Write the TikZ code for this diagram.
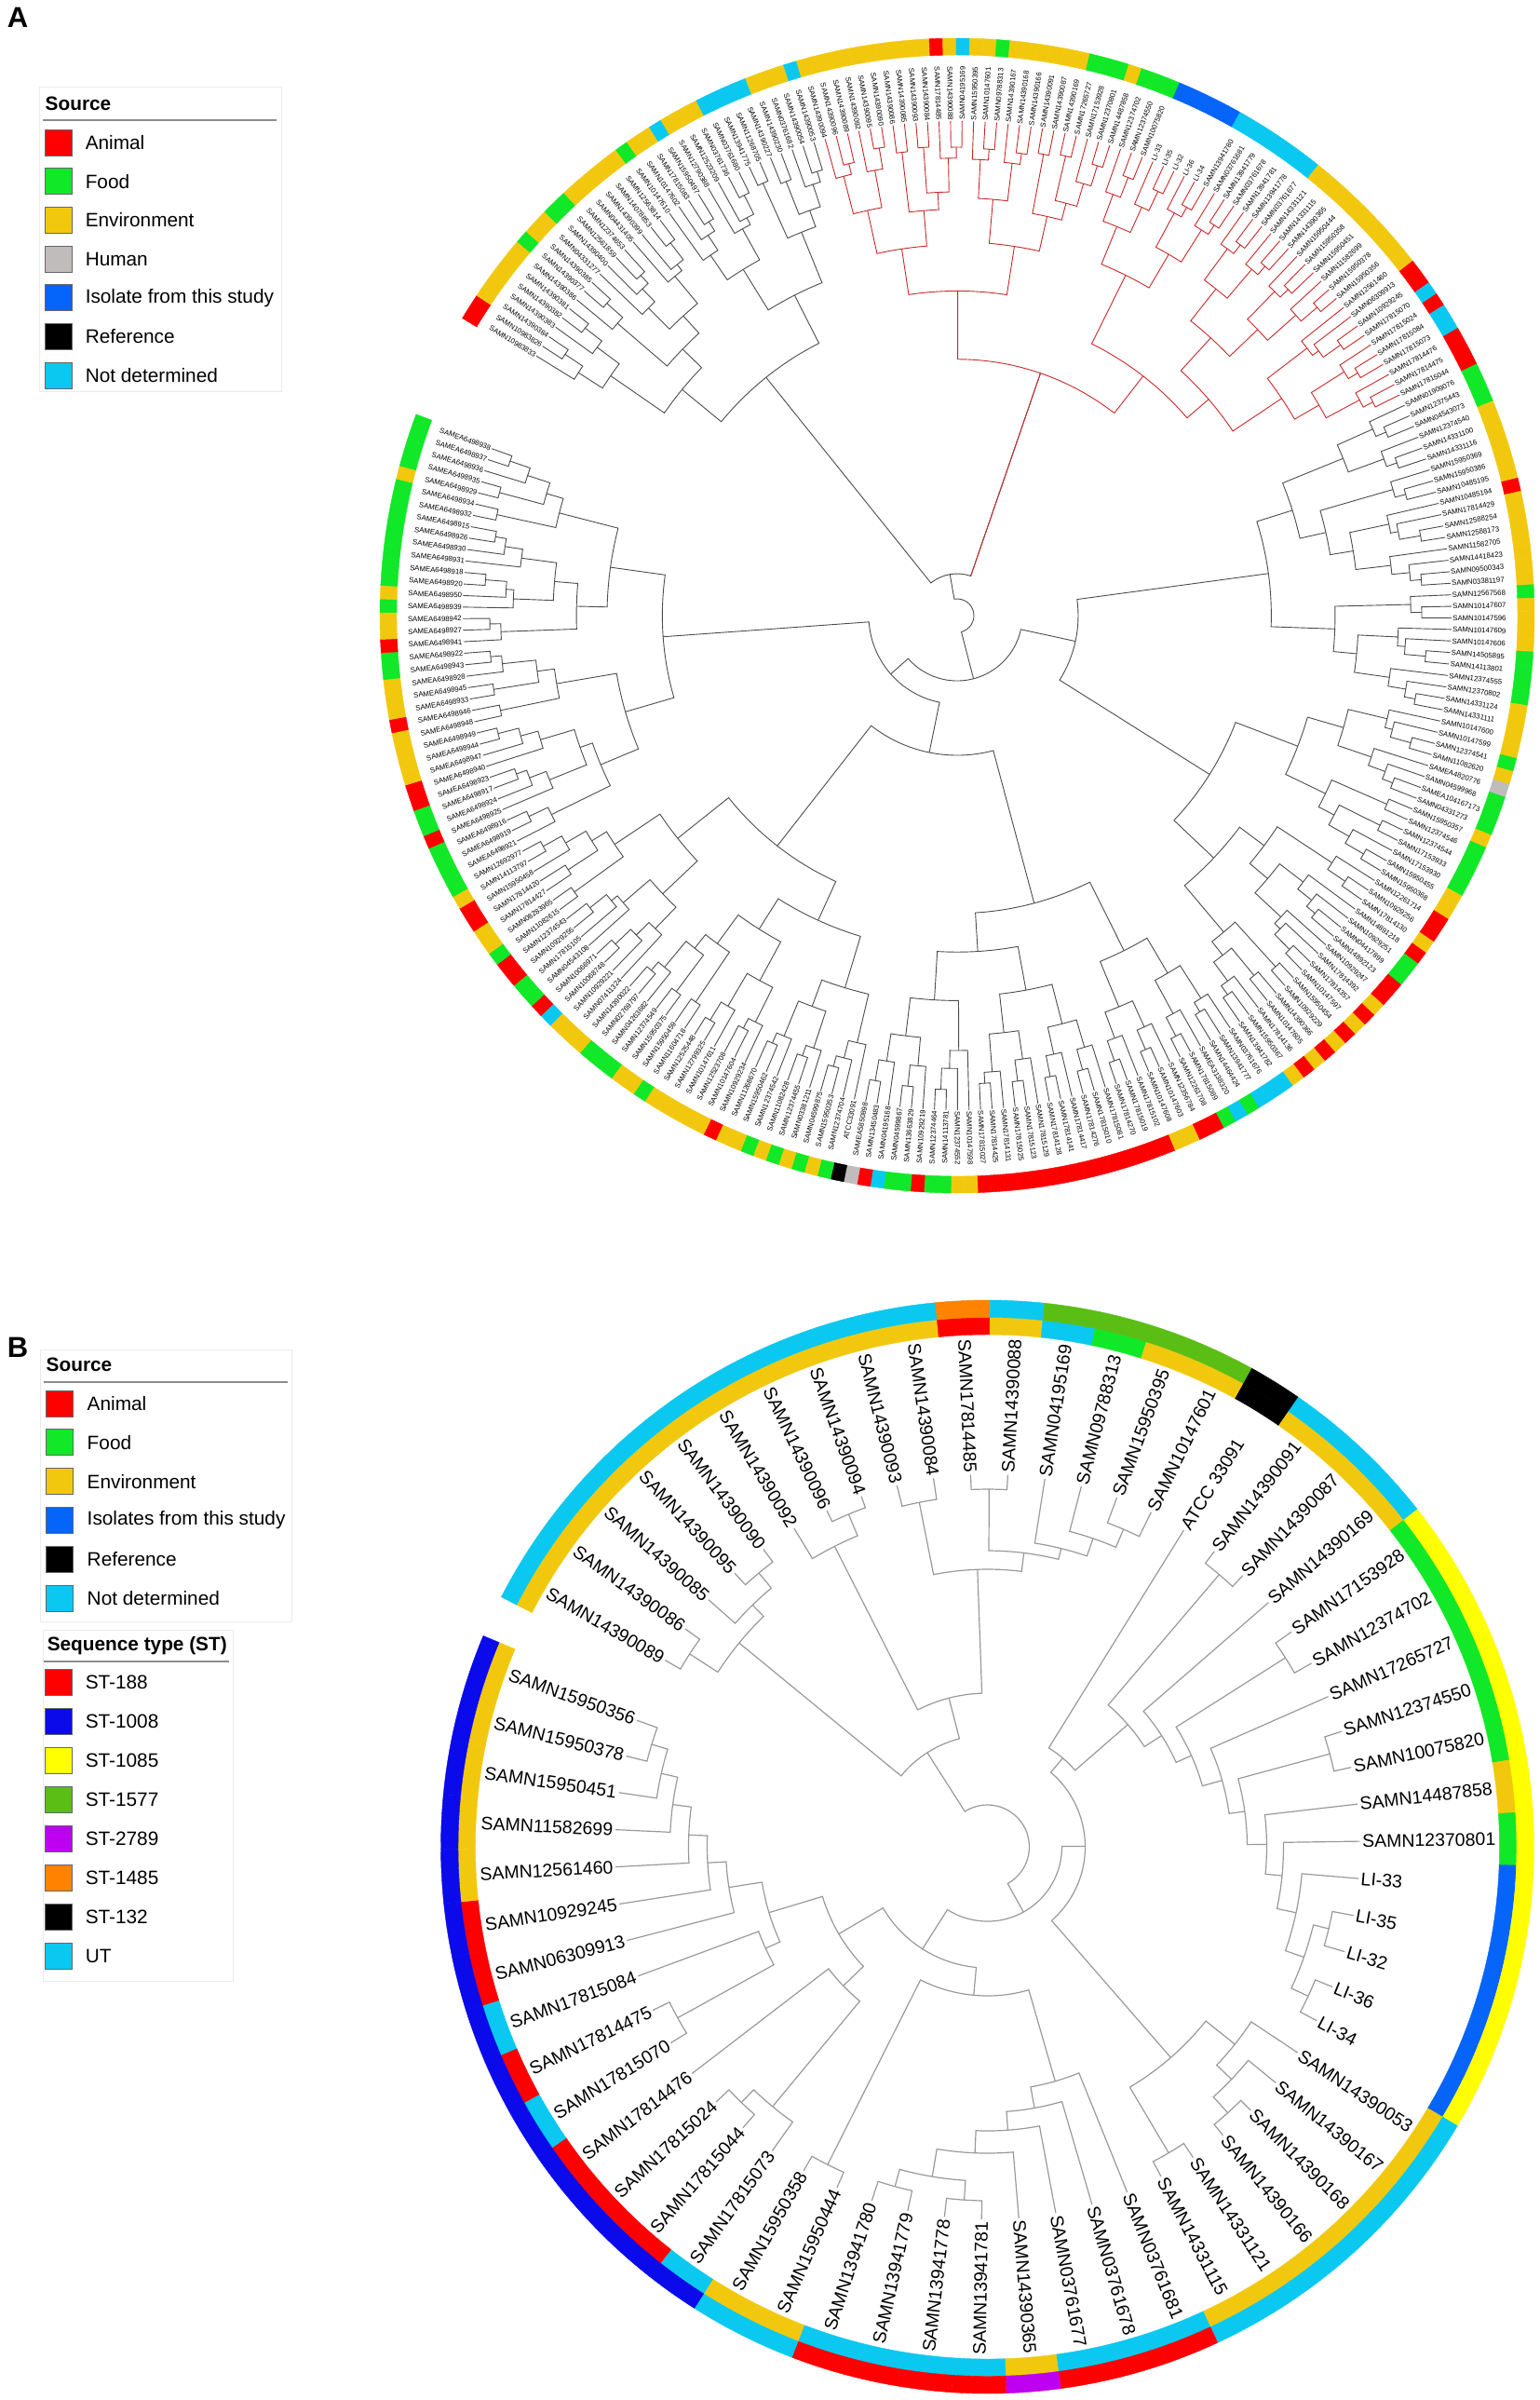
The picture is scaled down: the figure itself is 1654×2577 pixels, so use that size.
\documentclass[tikz,border=0pt]{standalone}
\usepackage{fontspec}
\setmainfont{Liberation Sans}
\usepackage{tikz}

% source colours
\definecolor{animal}{RGB}{255,0,0}
\definecolor{food}{RGB}{16,232,40}
\definecolor{envir}{RGB}{242,200,15}
\definecolor{human}{RGB}{192,188,188}
\definecolor{isolate}{RGB}{5,100,250}
\definecolor{refer}{RGB}{0,0,0}
\definecolor{undet}{RGB}{10,200,240}
% sequence type colours
\definecolor{st188}{RGB}{255,0,0}
\definecolor{st1008}{RGB}{10,10,235}
\definecolor{st1085}{RGB}{255,255,0}
\definecolor{st1577}{RGB}{90,190,20}
\definecolor{st2789}{RGB}{190,0,240}
\definecolor{st1485}{RGB}{255,130,0}
\definecolor{st132}{RGB}{0,0,0}
\definecolor{ut}{RGB}{10,200,240}
\definecolor{treered}{RGB}{200,40,40}

\tikzset{every picture/.style={line width=0.75pt}}
\tikzset{
  treeA/.style={draw=black!70, line width=0.45pt},
  treeR/.style={draw=treered, line width=0.45pt},
  treeB/.style={draw=black!40, line width=0.6pt},
  brnow/.style={treeA},
  labA/.style={font=\fontsize{3.9}{4.5}\selectfont, inner sep=0.3pt},
  labB/.style={font=\fontsize{9.75}{11}\selectfont, inner sep=1pt},
  legtext/.style={font=\fontsize{10.4}{12}\selectfont, anchor=west, inner sep=0pt},
  legtitle/.style={font=\fontsize{10.4}{12}\selectfont\bfseries, anchor=west, inner sep=0pt},
  swatch/.style={draw=black!60, line width=0.4pt, minimum width=14.5pt, minimum height=14pt, inner sep=0pt},
  legbox/.style={draw=black!8, line width=0.5pt},
  panel/.style={font=\fontsize{15.5}{18}\selectfont\bfseries, inner sep=0pt}
}

% panel A: one leaf (index, label, source colour)
\newcommand{\leafA}[3]{%
  \pgfmathsetmacro\tA{149-(#1-0.5)*1.3387}%
  \expandafter\xdef\csname angA#1-#1\endcsname{\tA}%
  \expandafter\xdef\csname radA#1-#1\endcsname{530}%
  \pgfmathsetmacro\tB{\tA+0.67}%
  \pgfmathsetmacro\tC{\tA-0.67}%
  \filldraw[#3, line width=0.2pt] (\tB:602) arc[start angle=\tB,end angle=\tC,radius=602] -- (\tC:620) arc[start angle=\tC,end angle=\tB,radius=620] -- cycle;
  \coordinate (A#1-#1) at (\tA:531);
  \pgfmathsetmacro\tD{cos(\tA)}%
  \ifdim\tD pt<0pt
    \node[labA,anchor=east,rotate=\tA+180] (A#1-lab) at (A#1-#1) {#2};
  \else
    \node[labA,anchor=west,rotate=\tA] (A#1-lab) at (A#1-#1) {#2};
  \fi}

% panel A: join two named nodes at a radius
\newcommand{\linkA}[4]{%
  \expandafter\let\expandafter\tA\csname ang#1\endcsname
  \expandafter\let\expandafter\tB\csname ang#2\endcsname
  \pgfmathsetmacro\tC{(\tA+\tB)/2}%
  \expandafter\xdef\csname ang#3\endcsname{\tC}%
  \expandafter\xdef\csname rad#3\endcsname{#4}%
  \coordinate (#3) at (\tC:#4);
  \draw[brnow] (#1) -- (\tA:#4) arc[start angle=\tA,end angle=\tB,radius=#4] -- (#2);}

\newcommand{\joinA}[5]{%
  \expandafter\let\expandafter\tD\csname rad#1\endcsname
  \expandafter\let\expandafter\tE\csname rad#2\endcsname
  \pgfmathsetmacro\tL{ln(#4)/ln(2)}%
  \pgfmathsetmacro\tR{min(528-20*\tL-4*\tL*\tL+mod(#5*7+#4*13,11)-5,\tD-7,\tE-7)}%
  \linkA{#1}{#2}{#3}{\tR}}

% panel A: build the clade of leaves #1..#2
\newcommand{\buildA}[2]{%
  \ifnum#1<#2\relax
    \begingroup
      \pgfmathtruncatemacro\tN{#2-#1+1}%
      \pgfmathtruncatemacro\tM{#1-1+max(1,min(\tN-1,floor(\tN*(0.35+0.03*mod(#1*13+#2*7,10)))))}%
      \pgfmathtruncatemacro\tP{\tM+1}%
      \edef\tNext{\noexpand\buildA{#1}{\tM}\noexpand\buildA{\tP}{#2}%
        \noexpand\joinA{A#1-\tM}{A\tP-#2}{A#1-#2}{\tN}{#1}}%
      \tNext
    \endgroup
  \fi}

% panel B: one leaf (index, name, label, source, ST)
\newcommand{\leafB}[5]{%
  \pgfmathsetmacro\tA{152.8-(#1-0.5)*5.734}%
  \expandafter\xdef\csname ang#2\endcsname{\tA}%
  \pgfmathsetmacro\tB{\tA+2.867}%
  \pgfmathsetmacro\tC{\tA-2.867}%
  \filldraw[#4, line width=0.2pt] (\tB:550) arc[start angle=\tB,end angle=\tC,radius=550] -- (\tC:568.5) arc[start angle=\tC,end angle=\tB,radius=568.5] -- cycle;
  \filldraw[#5, line width=0.2pt] (\tB:568.5) arc[start angle=\tB,end angle=\tC,radius=568.5] -- (\tC:587) arc[start angle=\tC,end angle=\tB,radius=587] -- cycle;
  \coordinate (#2) at (\tA:400);
  \pgfmathsetmacro\tD{cos(\tA)}%
  \ifdim\tD pt<0pt
    \node[labB,anchor=east,rotate=\tA+180] (#2-lab) at (#2) {#3};
  \else
    \node[labB,anchor=west,rotate=\tA] (#2-lab) at (#2) {#3};
  \fi}

\newcommand{\cladeB}[4]{%
  \expandafter\let\expandafter\tA\csname ang#2\endcsname
  \expandafter\let\expandafter\tB\csname ang#3\endcsname
  \pgfmathsetmacro\tC{(\tA+\tB)/2}%
  \expandafter\xdef\csname ang#1\endcsname{\tC}%
  \coordinate (#1) at (\tC:#4);
  \draw[treeB] (#2) -- (\tA:#4) arc[start angle=\tA,end angle=\tB,radius=#4] -- (#3);}

\begin{document}
\begin{tikzpicture}[x=0.5pt,y=0.5pt,yscale=-1,xscale=1]
\useasboundingbox (0,0) rectangle (1654,2577);

% Panel letters
\node[panel] (pA) at (19,19) {A};
\node[panel] (pB) at (19,1447) {B};

% Legend A
\draw[legbox] (42,93) rectangle (302,420);
\node[legtitle] (legA) at (48,111) {Source};
\draw[black!45, line width=0.9pt] (46,129) -- (297,129);
\foreach \col/\txt [count=\k] in {animal/Animal,food/Food,envir/Environment,human/Human,isolate/Isolate from this study,refer/Reference,undet/Not determined}
{
  \node[swatch, fill=\col] (swA\k) at (62.5,{153+41.67*(\k-1)}) {};
  \node[legtext] (txA\k) at (91,{153+41.67*(\k-1)}) {\txt};
}

% Legend B, source
\draw[legbox] (43,1449) rectangle (313,1741);
\node[legtitle] (legB) at (49,1465) {Source};
\draw[black!45, line width=0.9pt] (47,1484) -- (309,1484);
\foreach \col/\txt [count=\k] in {animal/Animal,food/Food,envir/Environment,isolate/Isolates from this study,refer/Reference,undet/Not determined}
{
  \node[swatch, fill=\col] (swB\k) at (64,{1507+41.8*(\k-1)}) {};
  \node[legtext] (txB\k) at (93,{1507+41.8*(\k-1)}) {\txt};
}

% Legend B, sequence type
\draw[legbox] (46,1750) rectangle (250,2127);
\node[legtitle] (legST) at (50,1767) {Sequence type (ST)};
\draw[black!45, line width=0.9pt] (47,1784) -- (246,1784);
\foreach \col/\txt [count=\k] in {st188/ST-188,st1008/ST-1008,st1085/ST-1085,st1577/ST-1577,st2789/ST-2789,st1485/ST-1485,st132/ST-132,ut/UT}
{
  \node[swatch, fill=\col] (swS\k) at (62.5,{1806+42*(\k-1)}) {};
  \node[legtext] (txS\k) at (91,{1806+42*(\k-1)}) {\txt};
}

%% Panel A tree
\begin{scope}[shift={(1028,661)},yscale=-1]
\foreach \lab/\col [count=\i] in {
SAMN10983833/animal,SAMN10983826/animal,SAMN14390384/envir,SAMN14390383/envir,
SAMN14390382/envir,SAMN14390381/envir,SAMN14390386/envir,SAMN14390377/food,
SAMN14390385/envir,SAMN04331277/envir,SAMN14390400/food,SAMN12561859/food,
SAMN12374653/envir,SAMN04431405/envir,SAMN14390399/envir,SAMN14078853/envir,
SAMN12563814/envir,SAMN10147610/food,SAMN10147602/envir,SAMN17815083/envir,
SAMN15950497/undet,SAMN12790388/envir,SAMN12523209/envir,SAMN03761736/envir,
SAMN03761680/undet,SAMN13941775/undet,SAMN11268705/undet,SAMN14390227/undet,
SAMN14390230/envir,SAMN03761682/envir,SAMN14390054/envir,SAMN14390053/undet,
SAMN14390094/envir,SAMN14390096/envir,SAMN14390089/envir,SAMN14390092/envir,
SAMN14390095/envir,SAMN14390090/envir,SAMN14390086/envir,SAMN14390085/envir,
SAMN14390093/envir,SAMN14390084/envir,SAMN17814485/animal,SAMN14390088/envir,
SAMN04195169/undet,SAMN15950395/envir,SAMN10147601/envir,SAMN09788313/food,
SAMN14390167/envir,SAMN14390168/envir,SAMN14390166/envir,SAMN14390091/envir,
SAMN14390087/envir,SAMN14390169/envir,SAMN17265727/food,SAMN17153928/food,
SAMN12370801/food,SAMN14487858/envir,SAMN12374702/food,SAMN12374550/food,
SAMN10075820/food,LI-33/isolate,LI-35/isolate,LI-32/isolate,
LI-36/isolate,LI-34/isolate,SAMN13941780/undet,SAMN03761681/undet,
SAMN13941779/undet,SAMN03761678/undet,SAMN13941781/undet,SAMN13941778/undet,
SAMN03761677/undet,SAMN14331121/envir,SAMN14331115/envir,SAMN14390365/envir,
SAMN15950444/envir,SAMN15950358/envir,SAMN15950451/envir,SAMN11582699/envir,
SAMN15950378/envir,SAMN15950356/envir,SAMN12561460/envir,SAMN06309913/animal,
SAMN10929245/animal,SAMN17815070/undet,SAMN17815024/animal,SAMN17815084/undet,
SAMN17815073/undet,SAMN17814476/animal,SAMN17814475/animal,SAMN17815044/animal,
SAMN01909076/food,SAMN12375443/food,SAMN04543073/food,SAMN12374540/envir,
SAMN14331100/envir,SAMN14331116/envir,SAMN15950369/envir,SAMN15950386/envir,
SAMN10485195/envir,SAMN10485194/animal,SAMN17814429/envir,SAMN12588254/envir,
SAMN12588173/envir,SAMN11582705/envir,SAMN14418423/envir,SAMN09500343/envir,
SAMN03381197/envir,SAMN12567568/food,SAMN10147607/envir,SAMN10147596/envir,
SAMN10147609/envir,SAMN10147606/envir,SAMN14505895/food,SAMN14113801/food,
SAMN12374555/food,SAMN12370802/food,SAMN14331124/envir,SAMN14331111/envir,
SAMN10147600/envir,SAMN10147599/envir,SAMN12374541/food,SAMN11082620/envir,
SAMEA4820776/human,SAMN04599968/food,SAMEA104167173/food,SAMN04331273/food,
SAMN15950357/envir,SAMN12374546/food,SAMN12374544/food,SAMN17153933/food,
SAMN17153930/food,SAMN15950455/envir,SAMN15950368/envir,SAMN12261714/animal,
SAMN10929256/animal,SAMN17814130/envir,SAMN14891218/animal,SAMN10929251/food,
SAMN04417899/food,SAMN14892123/animal,SAMN10929247/animal,SAMN17814392/envir,
SAMN17814357/animal,SAMN10147597/envir,SAMN15950454/animal,SAMN10929229/envir,
SAMN14390366/animal,SAMN10147605/envir,SAMN17814136/animal,SAMN15950367/envir,
SAMN13941782/undet,SAMN03761676/undet,SAMN13941777/undet,SAMN14464424/food,
SAMEA3138320/undet,SAMN17815089/food,SAMN12261708/animal,SAMN12356784/animal,
SAMN10147603/envir,SAMN10147608/envir,SAMN17815102/animal,SAMN17815019/animal,
SAMN17814270/animal,SAMN17815081/animal,SAMN17815010/animal,SAMN17814276/animal,
SAMN17814417/animal,SAMN17814141/animal,SAMN17814128/animal,SAMN17815129/animal,
SAMN17815123/animal,SAMN17815025/animal,SAMN17814131/animal,SAMN17814425/animal,
SAMN17815027/animal,SAMN10147598/envir,SAMN12374552/envir,SAMN14113781/food,
SAMN12374464/food,SAMN10929219/animal,SAMN13663829/food,SAMN04599867/food,
SAMN04195168/undet,SAMN13450483/animal,SAMEA5850898/human,ATCC33091/refer,
SAMN12374704/food,SAMN15950353/envir,SAMN04599875/food,SAMN03381211/envir,
SAMN12374455/food,SAMN11082428/envir,SAMN12374542/food,SAMN15950462/envir,
SAMN11268670/envir,SAMN10929234/animal,SAMN10147604/envir,SAMN12523708/envir,
SAMN10147611/envir,SAMN12799325/envir,SAMN12525448/envir,SAMN11604718/food,
SAMN15950459/envir,SAMN15950375/envir,SAMN12374549/food,SAMN04263682/food,
SAMN02769797/food,SAMN14390022/envir,SAMN07411324/envir,SAMN10929221/envir,
SAMN10068748/undet,SAMN10066971/animal,SAMN04543108/food,SAMN17815105/food,
SAMN10929255/animal,SAMN12374543/animal,SAMN11082615/food,SAMN08283965/envir,
SAMN17814427/envir,SAMN17814420/animal,SAMN15950458/animal,SAMN14113797/envir,
SAMN12692977/food,SAMEA6498921/food,SAMEA6498919/food,SAMEA6498916/food,
SAMEA6498925/animal,SAMEA6498924/food,SAMEA6498917/food,SAMEA6498923/animal,
SAMEA6498940/animal,SAMEA6498947/envir,SAMEA6498944/envir,SAMEA6498949/envir,
SAMEA6498948/envir,SAMEA6498946/animal,SAMEA6498933/envir,SAMEA6498945/envir,
SAMEA6498928/envir,SAMEA6498943/food,SAMEA6498922/food,SAMEA6498941/animal,
SAMEA6498927/envir,SAMEA6498942/envir,SAMEA6498939/food,SAMEA6498950/envir,
SAMEA6498920/food,SAMEA6498918/food,SAMEA6498931/food,SAMEA6498930/food,
SAMEA6498926/food,SAMEA6498915/food,SAMEA6498932/food,SAMEA6498934/food,
SAMEA6498929/envir,SAMEA6498935/food,SAMEA6498936/food,SAMEA6498937/food,
SAMEA6498938/food}
{\leafA{\i}{\lab}{\col}}

% clades
\buildA{1}{32}
\tikzset{brnow/.style={treeR}}
\buildA{33}{92}
\tikzset{brnow/.style={treeA}}
\buildA{93}{120}
\buildA{121}{153}
\buildA{154}{187}
\buildA{188}{225}
\buildA{226}{261}

% backbone
\linkA{A1-32}{A33-92}{J1}{45}
\expandafter\let\expandafter\tF\csname angA33-92\endcsname
\draw[treeR] (A33-92) -- (\tF:45);
\linkA{A93-120}{A121-153}{J2}{130}
\linkA{A154-187}{A188-225}{J3}{150}
\linkA{J3}{A226-261}{J4}{95}
\linkA{J2}{J4}{J5}{70}
\linkA{J1}{J5}{JR}{18}
\end{scope}

%% Panel B tree
\begin{scope}[shift={(1060.5,1983)},yscale=-1]
\leafB{1}{b1}{SAMN14390089}{envir}{ut}
\leafB{2}{b2}{SAMN14390086}{envir}{ut}
\leafB{3}{b3}{SAMN14390085}{envir}{ut}
\leafB{4}{b4}{SAMN14390095}{envir}{ut}
\leafB{5}{b5}{SAMN14390090}{envir}{ut}
\leafB{6}{b6}{SAMN14390092}{envir}{ut}
\leafB{7}{b7}{SAMN14390096}{envir}{ut}
\leafB{8}{b8}{SAMN14390094}{envir}{ut}
\leafB{9}{b9}{SAMN14390093}{envir}{ut}
\leafB{10}{b10}{SAMN14390084}{envir}{ut}
\leafB{11}{b11}{SAMN17814485}{animal}{st1485}
\leafB{12}{b12}{SAMN14390088}{envir}{ut}
\leafB{13}{b13}{SAMN04195169}{undet}{st1577}
\leafB{14}{b14}{SAMN09788313}{food}{st1577}
\leafB{15}{b15}{SAMN15950395}{envir}{st1577}
\leafB{16}{b16}{SAMN10147601}{envir}{st1577}
\leafB{17}{b17}{ATCC 33091}{refer}{st132}
\leafB{18}{b18}{SAMN14390091}{envir}{ut}
\leafB{19}{b19}{SAMN14390087}{envir}{ut}
\leafB{20}{b20}{SAMN14390169}{envir}{ut}
\leafB{21}{b21}{SAMN17153928}{food}{st1085}
\leafB{22}{b22}{SAMN12374702}{food}{st1085}
\leafB{23}{b23}{SAMN17265727}{food}{st1085}
\leafB{24}{b24}{SAMN12374550}{food}{st1085}
\leafB{25}{b25}{SAMN10075820}{food}{st1085}
\leafB{26}{b26}{SAMN14487858}{envir}{st1085}
\leafB{27}{b27}{SAMN12370801}{food}{st1085}
\leafB{28}{b28}{LI-33}{isolate}{st1085}
\leafB{29}{b29}{LI-35}{isolate}{st1085}
\leafB{30}{b30}{LI-32}{isolate}{st1085}
\leafB{31}{b31}{LI-36}{isolate}{st1085}
\leafB{32}{b32}{LI-34}{isolate}{st1085}
\leafB{33}{b33}{SAMN14390053}{envir}{ut}
\leafB{34}{b34}{SAMN14390167}{envir}{ut}
\leafB{35}{b35}{SAMN14390168}{envir}{ut}
\leafB{36}{b36}{SAMN14390166}{envir}{ut}
\leafB{37}{b37}{SAMN14331121}{envir}{ut}
\leafB{38}{b38}{SAMN14331115}{envir}{ut}
\leafB{39}{b39}{SAMN03761681}{undet}{st188}
\leafB{40}{b40}{SAMN03761678}{undet}{st188}
\leafB{41}{b41}{SAMN03761677}{undet}{st188}
\leafB{42}{b42}{SAMN14390365}{envir}{st2789}
\leafB{43}{b43}{SAMN13941781}{undet}{st188}
\leafB{44}{b44}{SAMN13941778}{undet}{st188}
\leafB{45}{b45}{SAMN13941779}{undet}{st188}
\leafB{46}{b46}{SAMN13941780}{undet}{st188}
\leafB{47}{b47}{SAMN15950444}{envir}{ut}
\leafB{48}{b48}{SAMN15950358}{envir}{ut}
\leafB{49}{b49}{SAMN17815073}{undet}{st1008}
\leafB{50}{b50}{SAMN17815044}{animal}{st1008}
\leafB{51}{b51}{SAMN17815024}{animal}{st1008}
\leafB{52}{b52}{SAMN17814476}{animal}{st1008}
\leafB{53}{b53}{SAMN17815070}{undet}{st1008}
\leafB{54}{b54}{SAMN17814475}{animal}{st1008}
\leafB{55}{b55}{SAMN17815084}{undet}{st1008}
\leafB{56}{b56}{SAMN06309913}{animal}{st1008}
\leafB{57}{b57}{SAMN10929245}{animal}{st1008}
\leafB{58}{b58}{SAMN12561460}{envir}{st1008}
\leafB{59}{b59}{SAMN11582699}{envir}{st1008}
\leafB{60}{b60}{SAMN15950451}{envir}{st1008}
\leafB{61}{b61}{SAMN15950378}{envir}{st1008}
\leafB{62}{b62}{SAMN15950356}{envir}{st1008}

% upper clades
\cladeB{c1}{b1}{b2}{381}
\cladeB{c2}{b4}{b5}{383}
\cladeB{c3}{b3}{c2}{362}
\cladeB{c4}{c1}{c3}{345}
\cladeB{c5}{b7}{b8}{387}
\cladeB{c6}{b6}{c5}{362}
\cladeB{c7}{b9}{b10}{377}
\cladeB{c8}{b11}{b12}{384}
\cladeB{c9}{b15}{b16}{371}
\cladeB{c10}{b14}{c9}{350}
\cladeB{c11}{b13}{c10}{330}
\cladeB{c12}{c8}{c11}{318}
\cladeB{c13}{c7}{c12}{298}
\cladeB{m1}{c6}{c13}{165}
\cladeB{up}{c4}{m1}{120}
% right clades
\cladeB{e1}{b18}{b19}{384}
\cladeB{e2}{b21}{b22}{379}
\cladeB{e3}{b24}{b25}{381}
\cladeB{e4}{b29}{b30}{377}
\cladeB{e5}{b31}{b32}{380}
\cladeB{e6}{e4}{e5}{360}
\cladeB{e7}{b28}{e6}{339}
\cladeB{e8}{b27}{e7}{318}
\cladeB{e9}{b26}{e8}{300}
\cladeB{e10}{e3}{e9}{279}
\cladeB{e11}{b23}{e10}{262}
\cladeB{e12}{e2}{e11}{240}
\cladeB{e13}{b20}{e12}{222}
\cladeB{e14}{e1}{e13}{200}
\cladeB{e15}{b17}{e14}{125}
\cladeB{f1}{b35}{b36}{385}
\cladeB{f2}{b34}{f1}{362}
\cladeB{f3}{b33}{f2}{340}
\cladeB{f4}{b37}{b38}{382}
\cladeB{f5}{f3}{f4}{300}
\cladeB{rgt}{e15}{f5}{105}
% lower clades
\cladeB{h1}{b45}{b46}{378}
\cladeB{h2}{b43}{b44}{380}
\cladeB{h3}{h2}{h1}{359}
\cladeB{h4}{b42}{h3}{329}
\cladeB{h5}{b41}{h4}{305}
\cladeB{h6}{b40}{h5}{285}
\cladeB{h7}{b39}{h6}{262}
\cladeB{p1}{b47}{b48}{382}
\cladeB{low}{h7}{p1}{160}
% left clades
\cladeB{n1}{b50}{b51}{381}
\cladeB{n2}{b49}{n1}{362}
\cladeB{n3}{n2}{b52}{215}
\cladeB{j1}{b53}{b54}{380}
\cladeB{j2}{j1}{b55}{262}
\cladeB{k1}{b61}{b62}{377}
\cladeB{k2}{b60}{k1}{359}
\cladeB{k3}{b59}{k2}{341}
\cladeB{k4}{b58}{k3}{321}
\cladeB{k5}{b57}{k4}{301}
\cladeB{k6}{b56}{k5}{281}
\cladeB{k7}{j2}{k6}{245}
\cladeB{lft}{n3}{k7}{185}
\cladeB{bl}{low}{lft}{130}
% backbone
\cladeB{rb1}{rgt}{bl}{80}
\cladeB{rb0}{up}{rb1}{45}
\end{scope}

\end{tikzpicture}
\end{document}
